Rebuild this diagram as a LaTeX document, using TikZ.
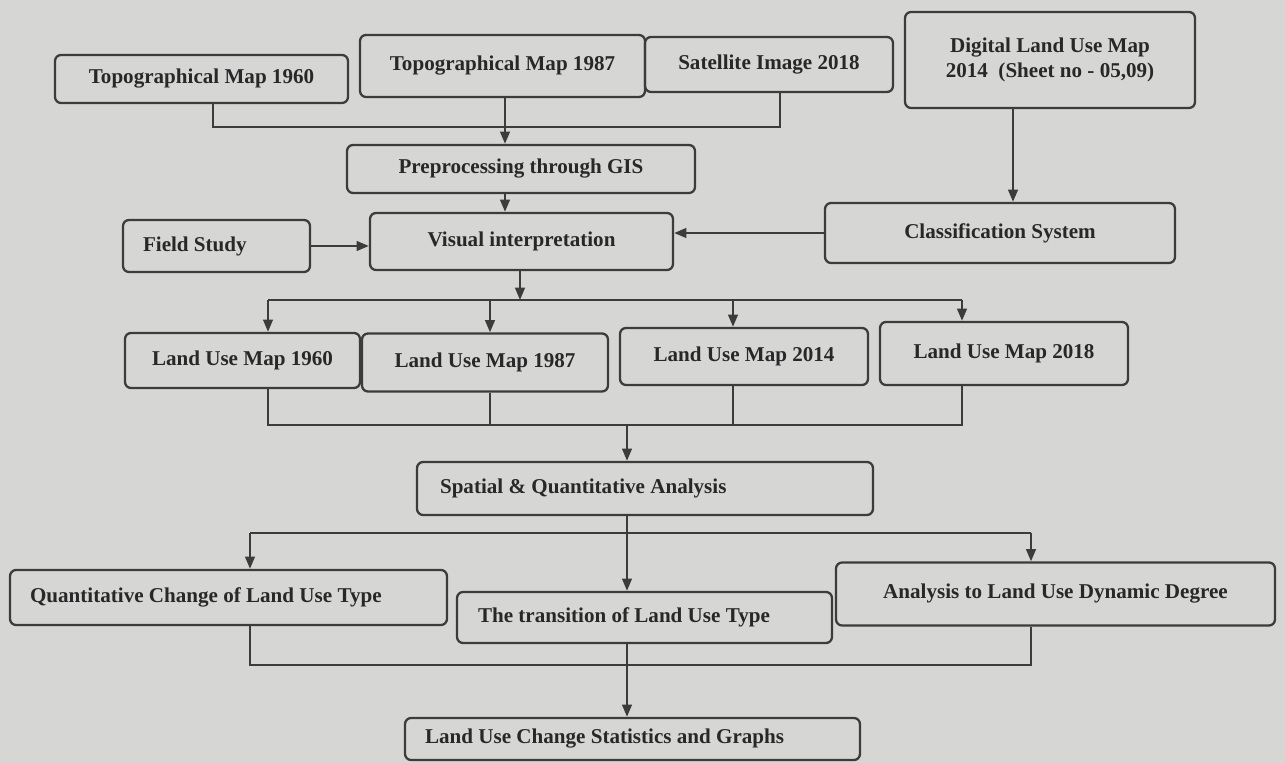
\documentclass[tikz,border=0pt]{standalone}
\usepackage{fontspec}
\setmainfont{Liberation Serif}
\usetikzlibrary{arrows.meta}
\definecolor{bgc}{RGB}{214,214,212}
\definecolor{lnc}{RGB}{60,60,60}
\definecolor{txc}{RGB}{40,40,40}
\tikzset{
  box/.style={draw=lnc, line width=1.3pt, rounded corners=0.12cm, align=center,
    text=txc, font=\fontsize{12}{14}\selectfont\bfseries, inner sep=2pt},
  lbox/.style={box, inner xsep=0.4cm},
  conn/.style={draw=lnc, line width=1.3pt},
  arr/.style={conn, -{Triangle[length=7pt,width=5.5pt]}}
}
\begin{document}
\begin{tikzpicture}[x=0.02cm,y=-0.02cm]
\fill[bgc] (0,0) rectangle (1285,763);
\useasboundingbox (0,0) rectangle (1285,763);
% top row
\node[box, minimum width=5.86cm, minimum height=0.96cm] (t60) at (201.5,79) {Topographical Map 1960};
\node[box, minimum width=5.7cm, minimum height=1.24cm] (t87) at (502.5,66) {Topographical Map 1987};
\node[box, minimum width=4.96cm, minimum height=1.1cm] (sat) at (769,64.5) {Satellite Image 2018};
\node[box, minimum width=5.8cm, minimum height=1.92cm] (dig) at (1050,60) {Digital Land Use Map\\2014~~(Sheet no - 05,09)};
\node[box, minimum width=6.96cm, minimum height=0.96cm] (pre) at (521,169) {Preprocessing through GIS};
\node[lbox, minimum height=1.04cm] (field) at (216.5,246) {\makebox[2.94cm][l]{Field Study}};
\node[box, minimum width=6.06cm, minimum height=1.14cm] (vis) at (521.5,241.5) {Visual interpretation};
\node[box, minimum width=7.0cm, minimum height=1.2cm] (cls) at (1000,233) {Classification System};
% land use maps
\node[box, minimum width=4.7cm, minimum height=1.1cm] (lu60) at (242.5,360.5) {Land Use Map 1960};
\node[box, minimum width=4.92cm, minimum height=1.16cm] (lu87) at (485,362.5) {Land Use Map 1987};
\node[box, minimum width=4.96cm, minimum height=1.14cm] (lu14) at (744,356.5) {Land Use Map 2014};
\node[box, minimum width=4.96cm, minimum height=1.26cm] (lu18) at (1004,353.5) {Land Use Map 2018};
% analysis
\node[lbox, inner xsep=0.46cm, minimum height=1.06cm] (spa) at (645,488.5) {\makebox[8.2cm][l]{Spatial \& Quantitative Analysis}};
\node[lbox, minimum height=1.1cm] (qua) at (228.5,597.5) {\makebox[7.94cm][l]{Quantitative Change of Land Use Type}};
\node[lbox, inner xsep=0.42cm, minimum height=1.02cm] (tra) at (644.5,617.5) {\makebox[6.66cm][l]{The transition of Land Use Type}};
\node[box, minimum width=8.78cm, minimum height=1.26cm] (ana) at (1055.5,594) {Analysis to Land Use Dynamic Degree};
\node[lbox, minimum height=0.84cm] (sta) at (632.5,739) {\makebox[8.3cm][l]{Land Use Change Statistics and Graphs}};
% helper coordinates
\coordinate (j1) at (505,127);
\coordinate (xa) at (213,0);
\coordinate (xb) at (780,0);
\coordinate (xd) at (1013,0);
\coordinate (b1) at (520,300);
\coordinate (c1) at (268,0);
\coordinate (c2) at (490,0);
\coordinate (c3) at (733,0);
\coordinate (c4) at (962,0);
\coordinate (b2) at (627,425);
\coordinate (b3) at (627,533);
\coordinate (d1) at (250,0);
\coordinate (d2) at (1031,0);
\coordinate (b4) at (627,665);
% connectors top
\draw[conn] (t60.south -| xa) |- (j1) -| (sat.south -| xb);
\draw[arr] (t87.south -| j1) -- (pre.north -| j1);
\draw[arr] (pre.south -| j1) -- (vis.north -| j1);
\draw[arr] (field.east) -- (field.east -| vis.west);
\draw[arr] (cls.west) -- (cls.west -| vis.east);
\draw[arr] (dig.south -| xd) -- (cls.north -| xd);
% branch to land use maps
\draw[arr] (vis.south -| b1) -- (b1);
\draw[conn] (c1 |- b1) -- (c4 |- b1);
\draw[arr] (c1 |- b1) -- (c1 |- lu60.north);
\draw[arr] (c2 |- b1) -- (c2 |- lu87.north);
\draw[arr] (c3 |- b1) -- (c3 |- lu14.north);
\draw[arr] (c4 |- b1) -- (c4 |- lu18.north);
% merge land use maps
\draw[conn] (c1 |- lu60.south) -- (c1 |- b2) -- (c4 |- b2) -- (c4 |- lu18.south);
\draw[conn] (c2 |- lu87.south) -- (c2 |- b2);
\draw[conn] (c3 |- lu14.south) -- (c3 |- b2);
\draw[arr] (b2) -- (spa.north -| b2);
% branch to analyses
\draw[arr] (spa.south -| b3) -- (tra.north -| b3);
\draw[conn] (d1 |- b3) -- (d2 |- b3);
\draw[arr] (d1 |- b3) -- (d1 |- qua.north);
\draw[arr] (d2 |- b3) -- (d2 |- ana.north);
% merge analyses
\draw[conn] (d1 |- qua.south) |- (b4) -| (d2 |- ana.south);
\draw[arr] (tra.south -| b4) -- (sta.north -| b4);
\end{tikzpicture}
\end{document}
